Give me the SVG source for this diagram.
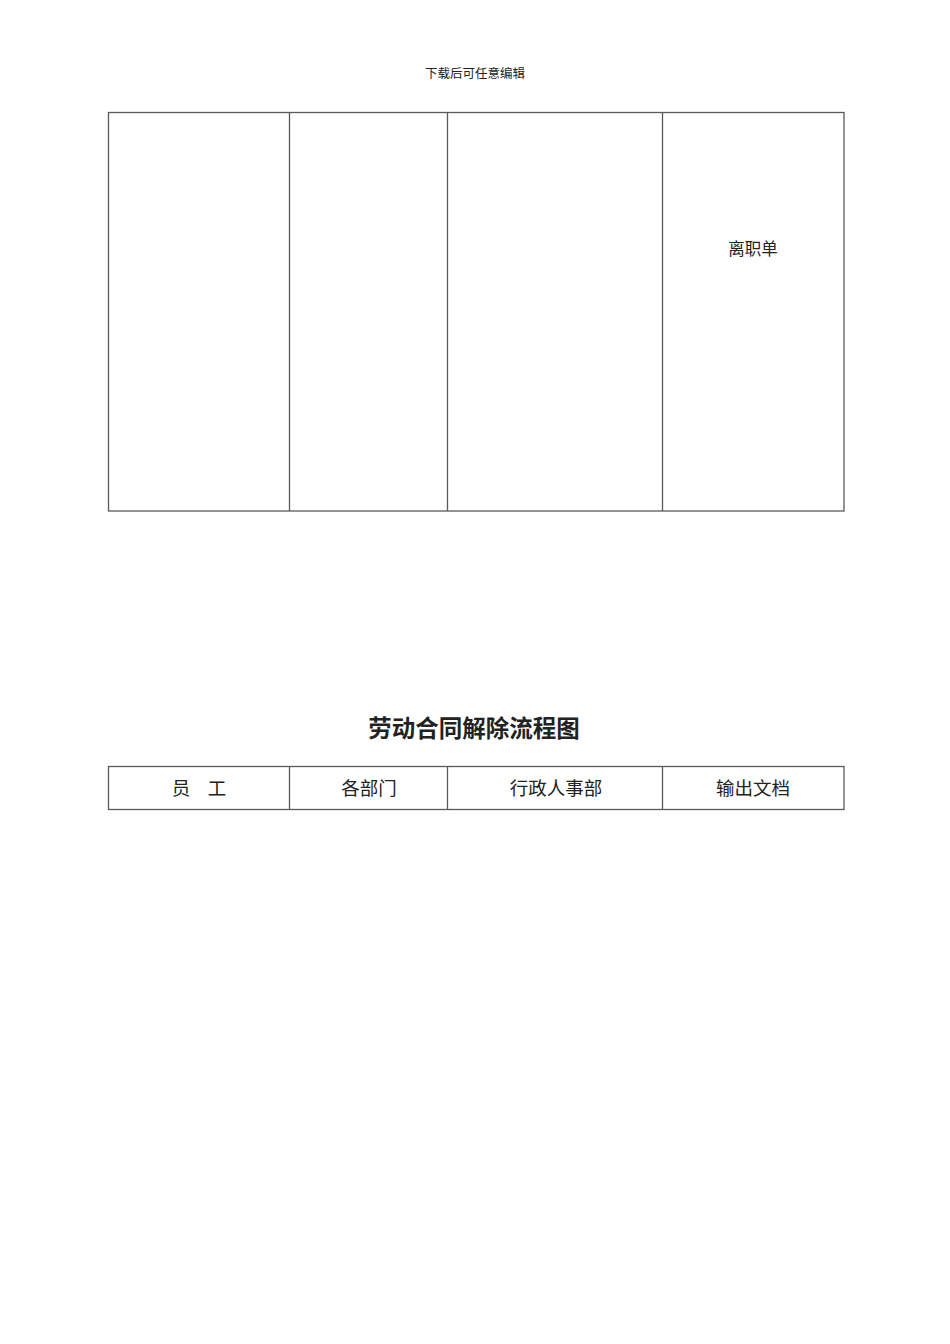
<svg xmlns="http://www.w3.org/2000/svg" width="950" height="1344" viewBox="0 0 950 1344">
<style>
.ln{stroke:#5a5a5a;stroke-width:1.3;fill:none}
.t{font-family:"Liberation Serif","Noto Sans CJK SC",serif;fill:#222;text-anchor:middle}
.h{font-size:18.5px}
</style>
<rect width="950" height="1344" fill="#fff"/>
<text class="t" x="475" y="78" font-size="12.5">下载后可任意编辑</text>
<g id="top-table">
<rect class="ln" x="108.5" y="112.5" width="735.5" height="398.5"/>
<line class="ln" x1="289.5" y1="112.5" x2="289.5" y2="511"/>
<line class="ln" x1="447.5" y1="112.5" x2="447.5" y2="511"/>
<line class="ln" x1="662.5" y1="112.5" x2="662.5" y2="511"/>
<text class="t" x="753" y="255" font-size="16.5">离职单</text>
</g>
<g id="title">
<text class="t" x="474" y="737" font-size="23.5" font-weight="bold">劳动合同解除流程图</text>
</g>
<g id="header-table">
<rect class="ln" x="108.5" y="766.5" width="735.5" height="43"/>
<line class="ln" x1="289.5" y1="766.5" x2="289.5" y2="809.5"/>
<line class="ln" x1="447.5" y1="766.5" x2="447.5" y2="809.5"/>
<line class="ln" x1="662.5" y1="766.5" x2="662.5" y2="809.5"/>
<text class="t h" x="181" y="795">员</text>
<text class="t h" x="217" y="795">工</text>
<text class="t h" x="369" y="795">各部门</text>
<text class="t h" x="556" y="795">行政人事部</text>
<text class="t h" x="753" y="795">输出文档</text>
</g>
<g id="connectors"></g>
</svg>
